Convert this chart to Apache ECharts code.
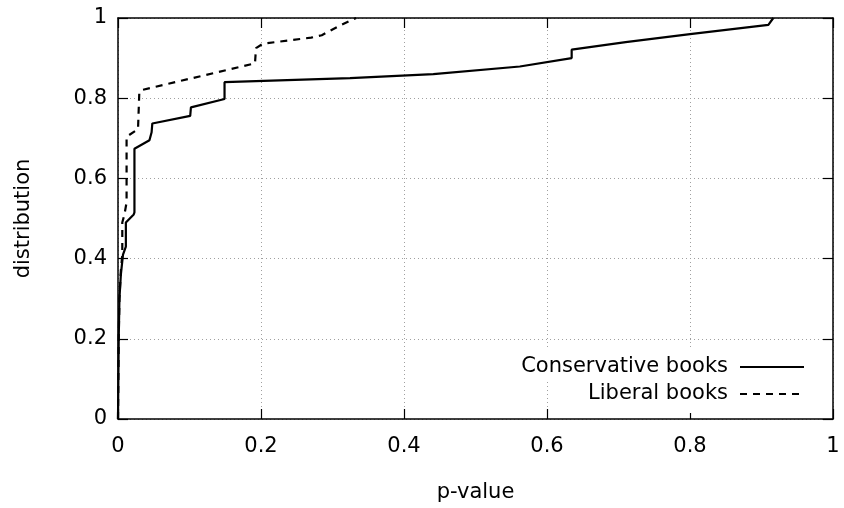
<!DOCTYPE html>
<html>
<head>
<meta charset="utf-8">
<script src="https://cdn.jsdelivr.net/npm/echarts@6/dist/echarts.min.js"></script>
<style>
html,body{margin:0;padding:0;background:#fff;}
#chart{width:844px;height:508px;}
</style>
</head>
<body>
<div id="chart"></div>
<script>
// p-value (x) and cumulative distribution (y)
var conservativeX = [0, 0.0005, 0.001, 0.002, 0.004, 0.007, 0.011, 0.011, 0.022, 0.023, 0.023, 0.044, 0.047, 0.048, 0.101, 0.102, 0.149, 0.149, 0.3245, 0.441, 0.562, 0.6345, 0.6345, 0.71, 0.8, 0.9096, 0.9165];
var conservativeY = [0, 0.1, 0.2, 0.3, 0.36, 0.41, 0.43, 0.49, 0.51, 0.515, 0.674, 0.695, 0.715, 0.737, 0.756, 0.777, 0.798, 0.840, 0.850, 0.860, 0.879, 0.900, 0.921, 0.94, 0.96, 0.983, 1.0];
var liberalX = [0, 0.0005, 0.001, 0.002, 0.004, 0.006, 0.006, 0.009, 0.012, 0.012, 0.028, 0.0298, 0.035, 0.1916, 0.193, 0.203, 0.27, 0.285, 0.31, 0.333];
var liberalY = [0, 0.1, 0.2, 0.3, 0.37, 0.41, 0.49, 0.51, 0.54, 0.704, 0.723, 0.815, 0.821, 0.887, 0.925, 0.936, 0.951, 0.957, 0.981, 1.0];
var seriesNames = ['Conservative books', 'Liberal books'];
var xTicks = [0, 0.2, 0.4, 0.6, 0.8, 1];
var yTicks = [0, 0.2, 0.4, 0.6, 0.8, 1];
var xLabel = 'p-value';
var yLabel = 'distribution';

function pairs(xs, ys) { return xs.map(function (x, i) { return [x, ys[i]]; }); }

var FONT = 'DejaVu Sans';
var FS = 21;
var frame = { show: true, onZero: false, lineStyle: { color: '#000', width: 1.5 } };
var tick = { show: true, inside: true, length: 10, lineStyle: { color: '#000', width: 1.2 } };
var grid = { show: true, lineStyle: { color: '#a0a0a0', width: 1, type: [1, 3] } };

function mkAxis(ticks, pos, main, labelMargin) {
  return {
    type: 'value', position: pos,
    min: ticks[0], max: ticks[ticks.length - 1], interval: ticks[1] - ticks[0],
    axisLine: frame, axisTick: tick,
    axisLabel: { show: main, margin: labelMargin, color: '#000', fontFamily: FONT, fontSize: FS },
    splitLine: main ? grid : { show: false }
  };
}

var xMain = mkAxis(xTicks, 'bottom', true, 17);
xMain.name = xLabel; xMain.nameLocation = 'middle'; xMain.nameGap = 63;
xMain.nameTextStyle = { color: '#000', fontFamily: FONT, fontSize: FS };
var yMain = mkAxis(yTicks, 'left', true, 11);
yMain.name = yLabel; yMain.nameLocation = 'middle'; yMain.nameGap = 84;
yMain.nameTextStyle = { color: '#000', fontFamily: FONT, fontSize: FS };

var legendText = { color: '#000', fontFamily: FONT, fontSize: FS, lineHeight: 22, padding: [0, 7, 0, 0] };
var legendSymbol = { color: 'rgba(0,0,0,0)', borderWidth: 0, opacity: 0 };

var chart = echarts.init(document.getElementById('chart'), null, { renderer: 'canvas' });
chart.setOption({
  animation: false,
  backgroundColor: '#fff',
  grid: { left: 118, top: 18, right: 11, bottom: 89 },
  xAxis: [xMain, mkAxis(xTicks, 'top', false, 0)],
  yAxis: [yMain, mkAxis(yTicks, 'right', false, 0)],
  legend: [
    { data: [seriesNames[0]], right: 29, top: 348, align: 'right', itemWidth: 64, itemHeight: 14,
      padding: [8, 10, 4, 10], backgroundColor: '#fff', textStyle: legendText, itemStyle: legendSymbol },
    { data: [seriesNames[1]], right: 29, top: 379, align: 'right', itemWidth: 64, itemHeight: 14,
      padding: [4, 10, 8, 10], backgroundColor: '#fff', textStyle: legendText, itemStyle: legendSymbol }
  ],
  series: [
    { name: seriesNames[0], type: 'line', data: pairs(conservativeX, conservativeY), symbol: 'none',
      lineStyle: { color: '#000', width: 2.2, type: 'solid' }, itemStyle: { color: '#000' } },
    { name: seriesNames[1], type: 'line', data: pairs(liberalX, liberalY), symbol: 'none',
      lineStyle: { color: '#000', width: 2.2, type: [7, 6] }, itemStyle: { color: '#000' } }
  ]
});
</script>
</body>
</html>
